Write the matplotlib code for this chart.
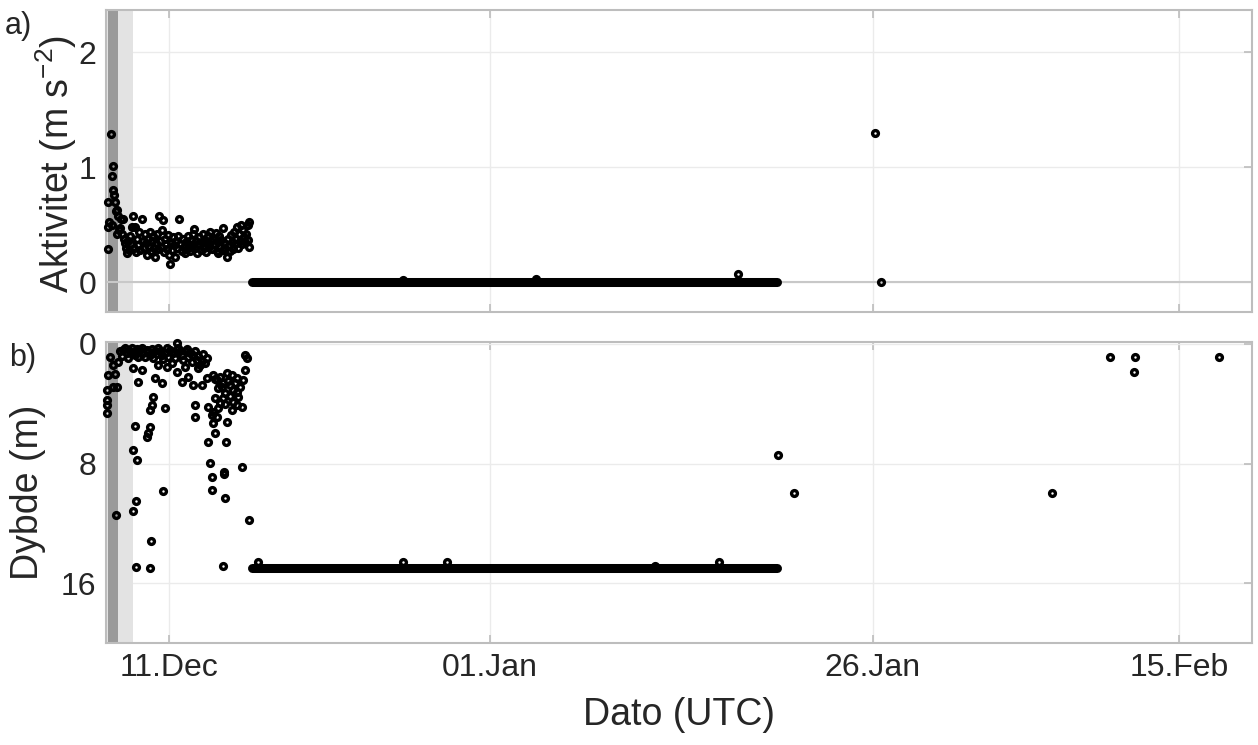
from datetime import datetime

import matplotlib
matplotlib.use('Agg')
import matplotlib.dates as mdates
import matplotlib.pyplot as plt
import numpy as np

plt.rcParams['font.family'] = ['Liberation Sans', 'DejaVu Sans']
plt.rcParams['mathtext.fontset'] = 'custom'
plt.rcParams['mathtext.rm'] = 'Liberation Sans'
plt.rcParams['mathtext.it'] = 'Liberation Sans:italic'
plt.rcParams['mathtext.bf'] = 'Liberation Sans:bold'

TXT = '#262626'
AXC = '#bdbdbd'
BASE = datetime(2017, 12, 1)

# time in days since 1 Dec
# --- a) activity, first days (scattered fixes)
act_day = [6.05, 6.05, 6.10, 6.08, 6.24, 6.30, 6.31, 6.37, 6.35, 6.45, 6.50, 6.55,
           6.61, 6.61, 6.70, 6.75, 6.83, 6.90, 6.95, 7.01, 7.08, 7.16, 7.22, 7.27,
           7.33, 7.40, 7.47, 7.55, 7.62, 7.70, 7.76, 7.81, 7.88, 7.95, 8.02, 8.10,
           8.17, 8.25, 8.31, 8.38, 8.45, 8.52, 8.58, 8.65, 8.72, 8.79, 8.86, 8.93,
           9.00, 9.06, 9.12, 9.19, 9.26, 9.33, 9.40, 9.46, 9.53, 9.60, 9.66, 9.72,
           9.79, 9.85, 9.92, 9.98, 10.04, 10.10, 10.17, 10.24, 10.31, 10.38, 10.44,
           10.50, 10.57, 10.64, 10.71, 10.78, 10.85, 10.92, 10.99, 11.06, 11.13,
           11.20, 11.27, 11.34, 11.41, 11.48, 11.55, 11.62, 11.67, 11.74, 11.81,
           11.88, 11.95, 12.02, 12.09, 12.16, 12.23, 12.30, 12.37, 12.44, 12.51,
           12.58, 12.65, 12.72, 12.79, 12.86, 12.93, 13.00, 13.07, 13.14, 13.21,
           13.25, 13.32, 13.39, 13.46, 13.53, 13.58, 13.65, 13.72, 13.80, 13.87,
           13.94, 14.01, 14.08, 14.15, 14.22, 14.29, 14.36, 14.43, 14.46, 14.53,
           14.60, 14.67, 14.74, 14.81, 14.88, 14.95, 15.02, 15.09, 15.16, 15.22,
           15.28, 15.25]
act_val = [0.29, 0.48, 0.52, 0.70, 1.29, 0.50, 0.92, 1.01, 0.80, 0.76, 0.70, 0.62,
           0.63, 0.42, 0.58, 0.45, 0.47, 0.55, 0.42, 0.55, 0.38, 0.34, 0.30, 0.25,
           0.36, 0.28, 0.40, 0.33, 0.48, 0.58, 0.30, 0.48, 0.26, 0.38, 0.32, 0.44,
           0.28, 0.55, 0.36, 0.30, 0.42, 0.34, 0.24, 0.38, 0.31, 0.44, 0.27, 0.36,
           0.40, 0.30, 0.22, 0.34, 0.42, 0.29, 0.58, 0.36, 0.31, 0.45, 0.54, 0.26,
           0.38, 0.33, 0.29, 0.41, 0.24, 0.16, 0.34, 0.28, 0.39, 0.32, 0.22,
           0.36, 0.30, 0.40, 0.55, 0.33, 0.27, 0.38, 0.31, 0.25, 0.35,
           0.29, 0.40, 0.33, 0.27, 0.37, 0.31, 0.42, 0.46, 0.30, 0.36,
           0.25, 0.33, 0.39, 0.28, 0.35, 0.42, 0.30, 0.37, 0.26, 0.34,
           0.40, 0.31, 0.44, 0.36, 0.29, 0.38, 0.33, 0.43, 0.27, 0.35,
           0.25, 0.40, 0.31, 0.37, 0.28, 0.47, 0.34, 0.30, 0.22, 0.38,
           0.32, 0.27, 0.41, 0.35, 0.29, 0.44, 0.33, 0.38, 0.48, 0.30,
           0.42, 0.36, 0.50, 0.33, 0.45, 0.39, 0.35, 0.42, 0.50, 0.37,
           0.52, 0.31]
# later single fixes
act_day2 = [25.32, 34.00, 47.20, 56.15, 56.54]
act_val2 = [0.015, 0.025, 0.07, 1.30, 0.0]

# --- b) depth, first days
dep_day = [6.18, 6.07, 6.51, 6.39, 5.96, 6.62, 5.95, 5.96, 5.96, 6.39, 6.72,
           6.83, 7.05, 7.27, 7.60, 7.81, 8.14, 8.35, 8.58, 8.79, 9.12, 9.33, 9.56,
           9.77, 10.10, 10.31, 10.54, 10.64, 10.86, 11.08, 11.29, 11.62, 11.84,
           12.06, 12.50,
           6.95, 7.16, 7.38, 7.49, 7.70, 7.92, 8.03, 8.25, 8.46, 8.68, 8.90, 9.01,
           9.22, 9.44, 9.66, 9.88, 9.99, 10.21, 10.43, 10.75, 10.97, 11.18, 11.40,
           11.51, 11.73, 11.95, 12.17, 12.28, 12.39,
           7.70, 8.03, 8.25, 9.12, 9.33, 9.56, 9.88, 10.21, 10.54, 10.86, 11.08,
           11.29, 11.62, 11.95, 12.17, 12.50,
           15.00, 15.11, 15.00, 14.89, 12.93, 13.36, 13.80, 14.13, 14.45, 13.58,
           14.02, 13.25, 13.69, 14.23, 14.56, 13.04, 13.36, 14.23, 14.78, 12.60,
           12.93, 13.15, 12.82, 13.80, 12.93, 13.04, 12.60, 13.76,
           13.15, 13.47, 13.90, 14.34, 14.67, 13.58, 14.02, 14.45, 13.25, 13.69,
           14.12, 14.50, 13.04,
           11.73, 11.73, 9.77, 9.01, 8.90, 8.79, 8.79, 8.68, 8.58, 7.81, 7.70, 7.92,
           12.71, 13.63, 13.60, 12.82, 14.78, 9.66, 12.82, 13.69, 7.88, 7.70, 6.57,
           15.28, 8.86, 7.88, 8.79, 13.58]
dep_val = [0.85, 2.07, 2.00, 2.86, 3.08, 2.90, 3.75, 4.10, 4.60, 1.40, 1.18,
           0.50, 0.40, 0.62, 0.29, 0.74, 0.40, 0.62, 0.40, 0.74, 0.50, 0.29, 0.74,
           0.62, 0.40, 0.62, -0.05, 0.29, 0.74, 0.50, 0.85, 0.74, 1.07,
           1.40, 0.96,
           0.80, 0.30, 0.95, 0.45, 0.55, 0.35, 0.90, 0.30, 0.85, 0.55, 0.35, 0.95,
           0.70, 0.45, 1.00, 0.30, 0.85, 0.55, 0.95, 0.45, 1.10, 0.35, 0.60,
           1.20, 0.50, 0.80, 1.15, 0.70, 1.30,
           1.63, 2.52, 1.74, 2.30, 1.40, 2.63, 1.52, 1.29, 1.85, 2.52, 1.52,
           2.19, 2.74, 1.63, 2.74, 2.30,
           0.74, 0.96, 1.74, 2.41, 2.07, 2.19, 1.96, 2.07, 2.30, 2.63,
           2.74, 2.97, 3.30, 3.08, 3.53, 3.64, 3.97, 3.86, 4.20, 4.20,
           4.53, 4.87, 4.75, 5.24, 5.31, 5.98, 6.58, 6.58,
           2.40, 2.85, 2.45, 2.60, 2.90, 3.60, 3.45, 3.20, 4.30, 4.00,
           4.40, 4.10, 2.35,
           4.08, 4.87, 4.30, 3.53, 4.08, 4.42, 5.54, 5.98, 6.20, 5.47, 7.10, 7.76,
           7.99, 8.55, 8.70, 8.88, 8.21, 9.82, 9.77, 10.33, 10.49, 11.18, 11.45,
           11.78, 13.17, 14.90, 15.00, 14.84]
# later single fixes
dep_day2 = [15.85, 25.32, 28.19, 41.78, 45.96, 49.83, 50.88, 67.71, 71.50, 73.13,
            73.06, 78.62]
dep_val2 = [14.6, 14.6, 14.6, 14.85, 14.6, 7.43, 9.95, 9.95, 0.85, 0.85, 1.87, 0.85]

# tag lying still: continuous run of fixes between these two times
rest_start, rest_end = 15.42, 49.75
rest_act = 0.0
rest_dep = 15.0

# shaded periods at start (dark, light)
dark_span = (6.05, 6.70)
light_span = (5.92, 7.68)

xlim_days = (5.92, 80.77)
tick_dates = [datetime(2017, 12, 11), datetime(2018, 1, 1),
              datetime(2018, 1, 26), datetime(2018, 2, 15)]

t0 = mdates.date2num(BASE)


def to_num(days):
    return t0 + np.asarray(days, dtype=float)


fig = plt.figure(figsize=(12.58, 7.45), dpi=100)
ax1 = fig.add_axes([0.0843, 0.5812, 0.911, 0.4054])
ax2 = fig.add_axes([0.0843, 0.1369, 0.911, 0.4040])

mk = dict(ls='none', marker='o', ms=4.2, mfc='none', mec='k', mew=2.4,
          clip_on=False, zorder=4)

for ax in (ax1, ax2):
    ax.axvspan(*to_num(light_span), color='#e3e3e3', lw=0, zorder=1)
    ax.axvspan(*to_num(dark_span), color='#9a9a9a', lw=0, zorder=1)

ax1.axhline(0, color='#c8c8c8', lw=1.5, zorder=2)
ax1.plot(to_num([rest_start, rest_end]), [rest_act, rest_act], color='k',
         lw=6.5, solid_capstyle='round', zorder=3)
ax1.plot(to_num(act_day), act_val, **mk)
ax1.plot(to_num(act_day2), act_val2, **mk)

ax2.plot(to_num([rest_start, rest_end]), [rest_dep, rest_dep], color='k',
         lw=6.5, solid_capstyle='round', zorder=3)
ax2.plot(to_num(dep_day), dep_val, **mk)
ax2.plot(to_num(dep_day2), dep_val2, **mk)

ax1.set_ylim(-0.26, 2.37)
ax1.set_yticks([0, 1, 2])
ax2.set_ylim(20, -0.13)
ax2.set_yticks([0, 8, 16])

for ax in (ax1, ax2):
    ax.set_xlim(*to_num(xlim_days))
    ax.set_xticks(mdates.date2num(tick_dates))
    ax.xaxis.set_major_formatter(mdates.DateFormatter('%d.%b'))
    ax.grid(True, color='#ebebeb', lw=1, zorder=0)
    ax.set_axisbelow(True)
    for s in ax.spines.values():
        s.set_color(AXC)
        s.set_linewidth(1.5)
    ax.tick_params(direction='in', length=6, width=1.2, color=AXC,
                   labelcolor=TXT, labelsize=23, top=True, right=True, pad=7)

ax1.tick_params(labelbottom=False)

ax1.set_ylabel('Aktivitet (m s$^{-2}$)', fontsize=27, color=TXT)
ax1.yaxis.set_label_coords(-0.024, 0.49)
ax2.set_ylabel('Dybde (m)', fontsize=27, color=TXT)
ax2.yaxis.set_label_coords(-0.052, 0.5)
ax2.set_xlabel('Dato (UTC)', fontsize=27, color=TXT, labelpad=10)

fig.text(0.004, 0.955, 'a)', fontsize=22, color=TXT, va='baseline')
fig.text(0.007, 0.509, 'b)', fontsize=22, color=TXT, va='baseline')

fig.savefig('out.png', dpi=100)
